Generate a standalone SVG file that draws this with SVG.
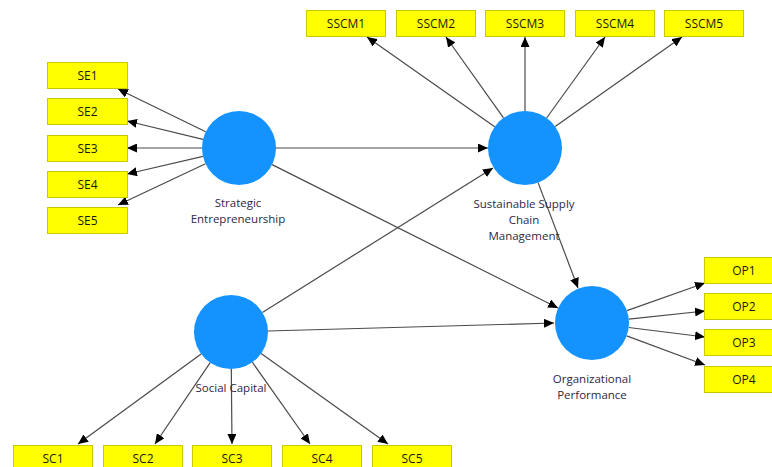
<svg xmlns="http://www.w3.org/2000/svg" width="772" height="467" viewBox="0 0 772 467">
<style>
.box{fill:#ffff00;stroke:#c9c900;stroke-width:1}
.bt{font-family:"Open Sans","Noto Sans",sans-serif;font-size:12px;fill:#1a1a1a;text-anchor:middle}
.lv{fill:#1493ff}
.lt{font-family:"Open Sans","Noto Sans",sans-serif;font-size:11.5px;fill:#2e2845;text-anchor:middle}
.c{stroke:#4a4a4a;stroke-width:1.2;fill:none;marker-end:url(#ah)}
</style>
<defs>
<marker id="ah" markerUnits="userSpaceOnUse" markerWidth="10" markerHeight="9" refX="10" refY="4.5" orient="auto">
<path d="M0,0 L10,4.5 L0,9 z" fill="#000"/>
</marker>
</defs>
<rect width="772" height="467" fill="#ffffff"/>
<g id="connectors">
<line class="c" x1="205.7" y1="131.8" x2="118" y2="89"/>
<line class="c" x1="203" y1="139.3" x2="127" y2="121"/>
<line class="c" x1="202" y1="148" x2="127" y2="148"/>
<line class="c" x1="203" y1="156.4" x2="127" y2="174"/>
<line class="c" x1="205.5" y1="163.8" x2="118" y2="205"/>
<line class="c" x1="276" y1="148" x2="488" y2="148"/>
<line class="c" x1="272.1" y1="164.6" x2="558" y2="308"/>
<line class="c" x1="494.7" y1="126.7" x2="367" y2="37"/>
<line class="c" x1="503.5" y1="117.8" x2="446" y2="37"/>
<line class="c" x1="525" y1="111" x2="525" y2="37"/>
<line class="c" x1="546.6" y1="118" x2="605" y2="37"/>
<line class="c" x1="555.2" y1="126.6" x2="682" y2="37"/>
<line class="c" x1="262.4" y1="312.4" x2="493" y2="168"/>
<line class="c" x1="268" y1="331" x2="554" y2="323"/>
<line class="c" x1="201.1" y1="353.9" x2="78" y2="444"/>
<line class="c" x1="210.2" y1="362.6" x2="155" y2="444"/>
<line class="c" x1="231.3" y1="369" x2="232" y2="444"/>
<line class="c" x1="252.3" y1="362.2" x2="310" y2="444"/>
<line class="c" x1="261.1" y1="353.5" x2="388" y2="444"/>
<line class="c" x1="538.1" y1="182.6" x2="578" y2="288"/>
<line class="c" x1="626.9" y1="310.6" x2="705" y2="283"/>
<line class="c" x1="628.8" y1="319.1" x2="705" y2="311"/>
<line class="c" x1="628.7" y1="327.5" x2="705" y2="337"/>
<line class="c" x1="626.7" y1="335.9" x2="705" y2="365"/>
</g>
<g id="SE">
<circle class="lv" cx="239" cy="148" r="37"/>
<text class="lt" x="238" y="207">Strategic</text>
<text class="lt" x="238" y="223">Entrepreneurship</text>
</g>
<g id="SSCM">
<circle class="lv" cx="525" cy="148" r="37"/>
<text class="lt" x="524" y="208">Sustainable Supply</text>
<text class="lt" x="524" y="224">Chain</text>
<text class="lt" x="524" y="240">Management</text>
</g>
<g id="SC">
<circle class="lv" cx="231" cy="332" r="37"/>
<text class="lt" x="231" y="392">Social Capital</text>
</g>
<g id="OP">
<circle class="lv" cx="592" cy="323" r="37"/>
<text class="lt" x="592" y="383">Organizational</text>
<text class="lt" x="592" y="399">Performance</text>
</g>
<g id="SE1"><rect class="box" x="47.5" y="62.5" width="80" height="26"/><text class="bt" x="87.5" y="80">SE1</text></g>
<g id="SE2"><rect class="box" x="47.5" y="98.5" width="80" height="26"/><text class="bt" x="87.5" y="116">SE2</text></g>
<g id="SE3"><rect class="box" x="47.5" y="135.5" width="80" height="26"/><text class="bt" x="87.5" y="153">SE3</text></g>
<g id="SE4"><rect class="box" x="47.5" y="171.5" width="80" height="26"/><text class="bt" x="87.5" y="189">SE4</text></g>
<g id="SE5"><rect class="box" x="47.5" y="207.5" width="80" height="26"/><text class="bt" x="87.5" y="225">SE5</text></g>
<g id="SSCM1"><rect class="box" x="306.5" y="10.5" width="79" height="26"/><text class="bt" x="346" y="28">SSCM1</text></g>
<g id="SSCM2"><rect class="box" x="396.5" y="10.5" width="79" height="26"/><text class="bt" x="436" y="28">SSCM2</text></g>
<g id="SSCM3"><rect class="box" x="485.5" y="10.5" width="79" height="26"/><text class="bt" x="525" y="28">SSCM3</text></g>
<g id="SSCM4"><rect class="box" x="575.5" y="10.5" width="79" height="26"/><text class="bt" x="615" y="28">SSCM4</text></g>
<g id="SSCM5"><rect class="box" x="664.5" y="10.5" width="79" height="26"/><text class="bt" x="704" y="28">SSCM5</text></g>
<g id="SC1"><rect class="box" x="13.5" y="445.5" width="79" height="26"/><text class="bt" x="53" y="463">SC1</text></g>
<g id="SC2"><rect class="box" x="103.5" y="445.5" width="79" height="26"/><text class="bt" x="143" y="463">SC2</text></g>
<g id="SC3"><rect class="box" x="192.5" y="445.5" width="79" height="26"/><text class="bt" x="232" y="463">SC3</text></g>
<g id="SC4"><rect class="box" x="282.5" y="445.5" width="79" height="26"/><text class="bt" x="322" y="463">SC4</text></g>
<g id="SC5"><rect class="box" x="372.5" y="445.5" width="79" height="26"/><text class="bt" x="412" y="463">SC5</text></g>
<g id="OP1"><rect class="box" x="704.5" y="257.5" width="80" height="26"/><text class="bt" x="744" y="275">OP1</text></g>
<g id="OP2"><rect class="box" x="704.5" y="293.5" width="80" height="26"/><text class="bt" x="744" y="311">OP2</text></g>
<g id="OP3"><rect class="box" x="704.5" y="329.5" width="80" height="26"/><text class="bt" x="744" y="347">OP3</text></g>
<g id="OP4"><rect class="box" x="704.5" y="366.5" width="80" height="26"/><text class="bt" x="744" y="384">OP4</text></g>
</svg>
